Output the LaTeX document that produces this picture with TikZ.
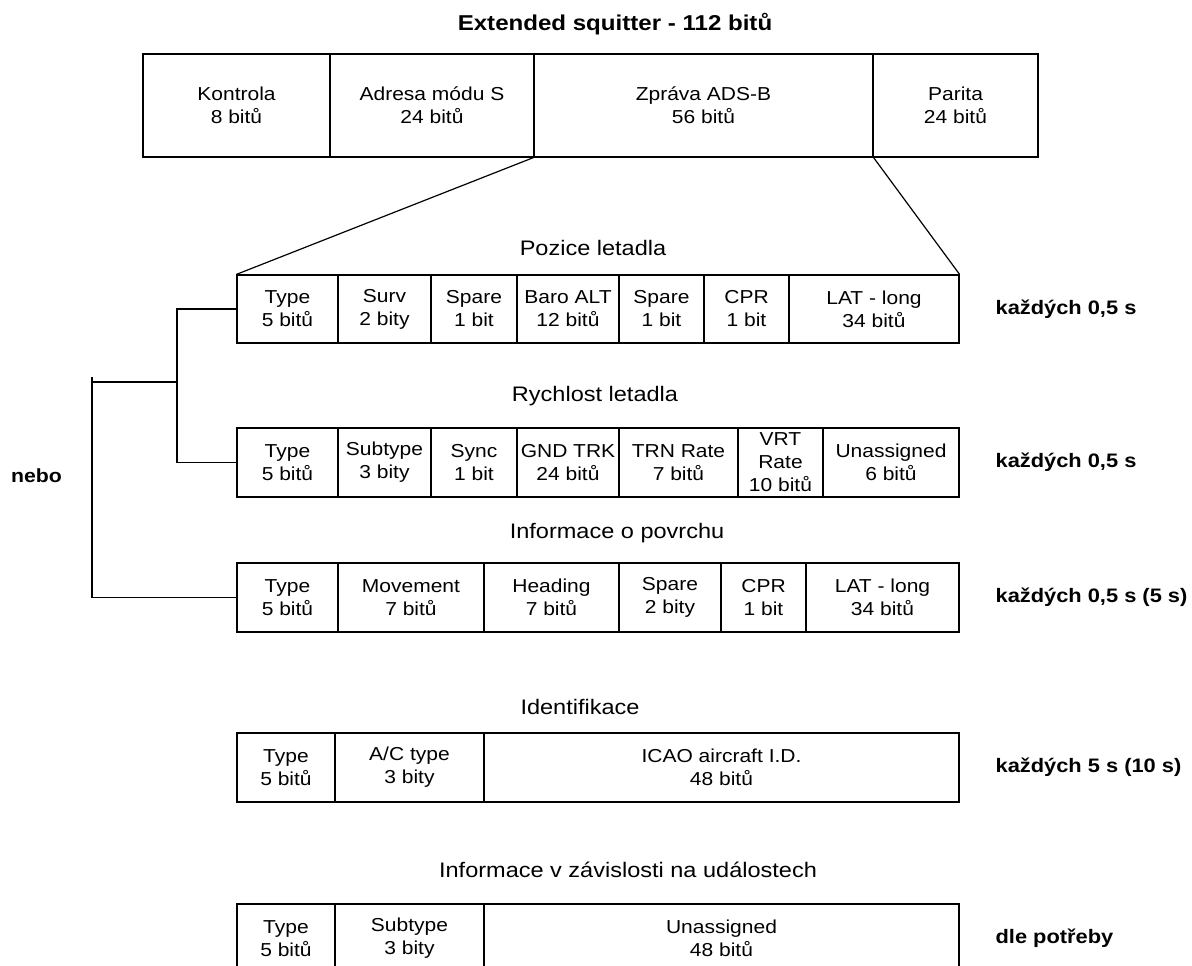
\documentclass[tikz,border=0pt]{standalone}
\usepackage{fontspec}
\setmainfont{Liberation Sans}[FakeStretch=1.12]
\newcommand{\fcell}[6]{\node[cell, minimum width={#3-#2}, minimum height={#5-#4}] (#1) at ({(#2+#3)/2},{(#4+#5)/2}) {#6};}
\begin{document}
\begin{tikzpicture}[x=1pt,y=-1pt, line width=1.2pt,
  cell/.style={draw, inner sep=0pt, align=center, font=\fontsize{18.75}{23}\selectfont},
  grp/.style={anchor=base, inner sep=0pt, font=\fontsize{21}{25}\selectfont},
  maintitle/.style={anchor=base, inner sep=0pt, font=\fontsize{21.5}{25}\selectfont\bfseries},
  rate/.style={anchor=west, inner sep=0pt, font=\fontsize{19.5}{23}\selectfont\bfseries},
  conn/.style={line width=1.2pt}]
\useasboundingbox (0,0) rectangle (1192,966);
\clip (0,0) rectangle (1192,966);

% main title and top frame
\node[maintitle] (title) at (615,31) {Extended squitter - 112 bitů};
\fcell{k}{143}{330}{54}{157}{Kontrola\\8 bitů}
\fcell{a}{330}{534}{54}{157}{Adresa módu S\\24 bitů}
\fcell{z}{534}{873}{54}{157}{Zpráva ADS-B\\56 bitů}
\fcell{p}{873}{1038}{54}{157}{Parita\\24 bitů}

% Pozice letadla
\node[grp] (tp) at (593,255) {Pozice letadla};
\fcell{p1}{237}{338}{275}{343}{Type\\5 bitů}
\fcell{p2}{338}{431}{275}{343}{Surv\\2 bity}
\fcell{p3}{431}{517}{275}{343}{Spare\\1 bit}
\fcell{p4}{517}{619}{275}{343}{Baro ALT\\12 bitů}
\fcell{p5}{619}{704}{275}{343}{Spare\\1 bit}
\fcell{p6}{704}{789}{275}{343}{CPR\\1 bit}
\fcell{p7}{789}{959}{275}{343}{LAT - long\\34 bitů}
\node[rate] (rp) at (995,309) {každých 0,5 s};

% fan lines
\draw[conn] (z.south west) -- (p1.north west);
\draw[conn] (z.south east) -- (p7.north east);

% Rychlost letadla
\node[grp] (tr) at (595,401) {Rychlost letadla};
\fcell{r1}{237}{338}{428}{497}{Type\\5 bitů}
\fcell{r2}{338}{431}{428}{497}{Subtype\\3 bity}
\fcell{r3}{431}{517}{428}{497}{Sync\\1 bit}
\fcell{r4}{517}{619}{428}{497}{GND TRK\\24 bitů}
\fcell{r5}{619}{738}{428}{497}{TRN Rate\\7 bitů}
\fcell{r6}{738}{823}{428}{497}{VRT\\Rate\\10 bitů}
\fcell{r7}{823}{959}{428}{497}{Unassigned\\6 bitů}
\node[rate] (rr) at (995,462) {každých 0,5 s};

% Informace o povrchu
\node[grp] (ts) at (617,538) {Informace o povrchu};
\fcell{s1}{237}{338}{563}{632}{Type\\5 bitů}
\fcell{s2}{338}{484}{563}{632}{Movement\\7 bitů}
\fcell{s3}{484}{619}{563}{632}{Heading\\7 bitů}
\fcell{s4}{619}{721}{563}{632}{Spare\\2 bity}
\fcell{s5}{721}{806}{563}{632}{CPR\\1 bit}
\fcell{s6}{806}{959}{563}{632}{LAT - long\\34 bitů}
\node[rate] (rs) at (995,597) {každých 0,5 s (5 s)};

% Identifikace
\node[grp] (ti) at (580,714) {Identifikace};
\fcell{i1}{237}{335}{733}{802}{Type\\5 bitů}
\fcell{i2}{335}{484}{733}{802}{A/C type\\3 bity}
\fcell{i3}{484}{959}{733}{802}{ICAO aircraft I.D.\\48 bitů}
\node[rate] (ri) at (995,767) {každých 5 s (10 s)};

% Informace v zavislosti na udalostech
\node[grp] (te) at (628,877) {Informace v závislosti na událostech};
\fcell{e1}{237}{335}{904}{973}{Type\\5 bitů}
\fcell{e2}{335}{484}{904}{973}{Subtype\\3 bity}
\fcell{e3}{484}{959}{904}{973}{Unassigned\\48 bitů}
\node[rate] (re) at (995,938) {dle potřeby};

% bracket "nebo"
\coordinate (j1) at (177,382);
\coordinate (j0) at (92,382);
\coordinate (j0t) at (92,377);
\draw[conn] (p1.west) -| (j1) |- (r1.west);
\draw[conn] (j1) -- (j0);
\draw[conn] (j0t) |- (s1.west);
\node[anchor=center, inner sep=0pt, font=\fontsize{19}{23}\selectfont\bfseries] (nebo) at (36.5,476) {nebo};
\end{tikzpicture}
\end{document}
